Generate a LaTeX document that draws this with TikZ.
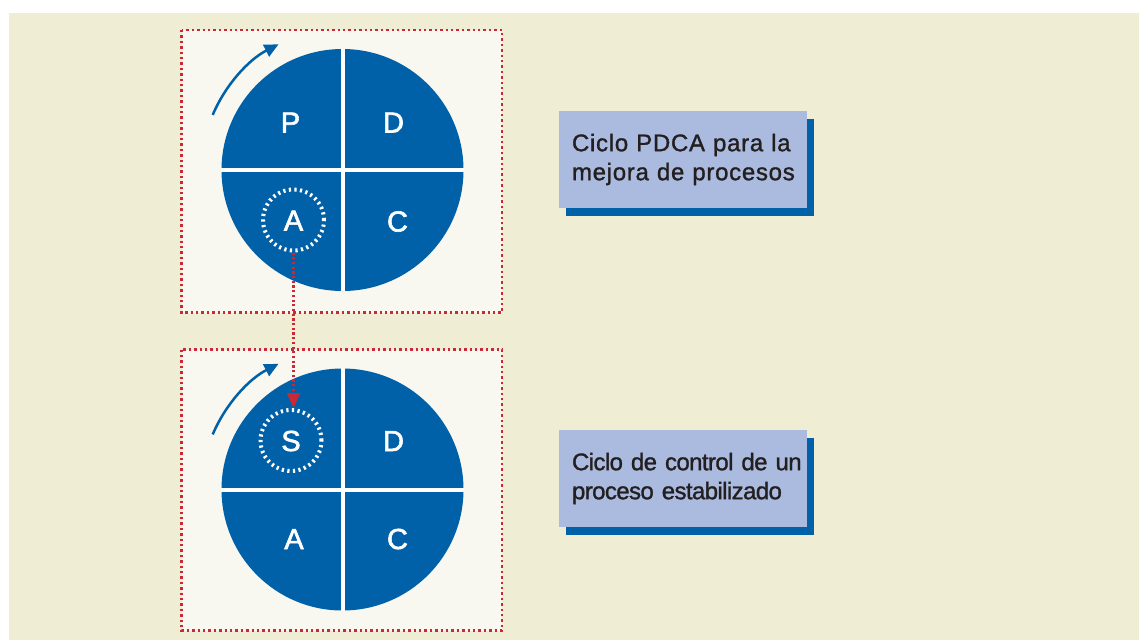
\documentclass[tikz,border=0pt]{standalone}
\usepackage{fontspec}
\setmainfont{Liberation Sans}
\newfontfamily\lettersans[FakeBold=2]{Liberation Sans}
\newfontfamily\labelsans[FakeBold=1.2]{Liberation Sans}
\usetikzlibrary{arrows.meta,shadows,calc}
\definecolor{pdcablue}{RGB}{0,96,168}
\definecolor{bgbeige}{RGB}{240,237,213}
\definecolor{panelfill}{RGB}{248,247,240}
\definecolor{dotred}{RGB}{200,40,55}
\definecolor{labelfill}{RGB}{170,187,223}
\definecolor{textdark}{RGB}{35,31,32}
\begin{document}
\begin{tikzpicture}[x=1pt,y=-1pt,
  dotpanel/.style={draw=dotred, fill=panelfill, line width=2.2pt, dash pattern=on 2.4pt off 3pt},
  pdcadisc/.style={circle, fill=pdcablue, minimum size=242pt, inner sep=0pt},
  splitline/.style={draw=white, line width=4pt},
  quadletter/.style={text=white, font=\lettersans\fontsize{29}{29}\selectfont, inner sep=0pt, text height=21pt, text depth=0pt},
  focusring/.style={quadletter, circle, minimum size=61pt, draw=white, line width=4pt, dash pattern=on 2.2pt off 3.4pt},
  spinarrow/.style={draw=pdcablue, line width=2.5pt, -{Triangle[length=14pt,width=13pt]}},
  flowlink/.style={draw=dotred, line width=2.2pt, dash pattern=on 2.2pt off 2.5pt, -{Triangle[length=15pt,width=13pt,fill=dotred]}},
  labelbox/.style={fill=labelfill, text=textdark, font=\labelsans\fontsize{24}{29}\selectfont, align=left, text width=222pt, minimum width=248pt, minimum height=97pt, inner xsep=13pt, inner ysep=0pt, drop shadow={fill=pdcablue, opacity=1, shadow xshift=7pt, shadow yshift=-8pt}}
]
\useasboundingbox (0,0) rectangle (1139,640);
\fill[white] (0,0) rectangle (1139,640);
\fill[bgbeige] (9,13) rectangle (1139,640);

% panels
\path[dotpanel] (181.5,30) rectangle (502,312.5);
\path[dotpanel] (181.5,349.5) rectangle (502,630.5);

% top cycle
\node[pdcadisc] (disc1) at (342.5,170) {};
\draw[splitline] (disc1.north) -- (disc1.south);
\draw[splitline] (disc1.west) -- (disc1.east);
\node[quadletter] (P1) at (290.5,122) {P};
\node[quadletter] (D1) at (393.5,122) {D};
\node[focusring] (A1) at (293.5,220) {A};
\node[quadletter] (C1) at (397.5,221) {C};
\draw[spinarrow] ($(disc1.center)+(-157:141)$) arc[start angle=-157, end angle=-117, radius=141];

% bottom cycle
\node[pdcadisc] (disc2) at (342.5,489.5) {};
\draw[splitline] (disc2.north) -- (disc2.south);
\draw[splitline] (disc2.west) -- (disc2.east);
\node[focusring] (S2) at (291,440.5) {S};
\node[quadletter] (D2) at (393.5,440.5) {D};
\node[quadletter] (A2) at (294,538.5) {A};
\node[quadletter] (C2) at (397.5,538.5) {C};
\draw[spinarrow] ($(disc2.center)+(-157:141)$) arc[start angle=-157, end angle=-117, radius=141];

% link A -> S
\draw[flowlink] (A1.south) -- (A1.south |- S2.north);

% labels
\node[labelbox] (lab1) at (683,159.5) {\addfontfeature{LetterSpace=3}\mbox{Ciclo PDCA para la}\\\mbox{mejora de procesos}};
\node[labelbox] (lab2) at (683,478.5) {\addfontfeature{LetterSpace=-2.5}\mbox{Ciclo de control de un}\\\mbox{proceso estabilizado}};
\end{tikzpicture}
\end{document}
